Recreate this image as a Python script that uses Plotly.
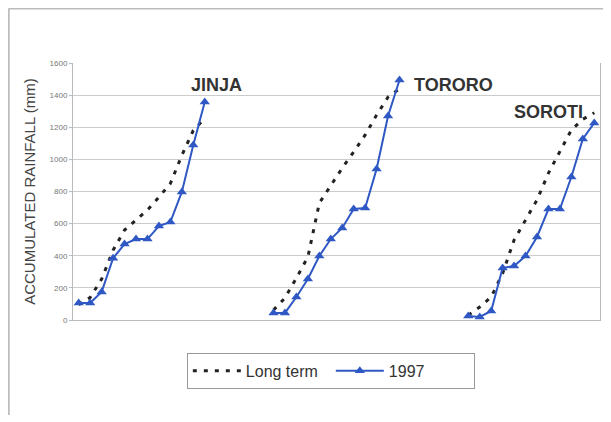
import plotly.graph_objects as go

# category slots: 12 months per station, 5 empty slots between stations
jinja_x = list(range(0, 12))
tororo_x = list(range(17, 29))
soroti_x = list(range(34, 46))

jinja_long = [95, 140, 255, 435, 560, 620, 685, 765, 850, 1025, 1180, 1255]
tororo_long = [62, 137, 261, 392, 728, 840, 946, 1046, 1152, 1276, 1388, 1440]
soroti_long = [30, 81, 143, 290, 498, 622, 747, 915, 1046, 1183, 1250, 1290]

jinja_1997 = [106, 106, 175, 385, 473, 504, 504, 585, 610, 797, 1090, 1357]
tororo_1997 = [44, 44, 143, 255, 398, 504, 573, 691, 697, 940, 1270, 1494]
soroti_1997 = [25, 19, 56, 324, 336, 398, 517, 691, 691, 890, 1127, 1227]

stations = ["JINJA", "TORORO", "SOROTI"]
label_x = [12, 32.7, 41]
label_y = [1463, 1463, 1295]

y_ticks = [0, 200, 400, 600, 800, 1000, 1200, 1400, 1600]


def join(*parts):
    xs, ys = [], []
    for x, y in parts:
        if xs:
            xs.append(None)
            ys.append(None)
        xs += x
        ys += y
    return xs, ys


lt_x, lt_y = join((jinja_x, jinja_long), (tororo_x, tororo_long), (soroti_x, soroti_long))
yr_x, yr_y = join((jinja_x, jinja_1997), (tororo_x, tororo_1997), (soroti_x, soroti_1997))

fig = go.Figure()
fig.add_trace(go.Scatter(
    x=lt_x, y=lt_y, name="Long term", mode="lines",
    line=dict(color="#222222", width=3, dash="4px,7px"),
))
fig.add_trace(go.Scatter(
    x=yr_x, y=yr_y, name="1997", mode="lines+markers",
    line=dict(color="#2f58c4", width=2),
    marker=dict(symbol="triangle-up", size=9, color="#2f58c4"),
))

for name, x, y in zip(stations, label_x, label_y):
    fig.add_annotation(x=x, y=y, text="<b>%s</b>" % name, showarrow=False,
                       font=dict(size=18, color="#333333"))

# outer chart border (left and top); page body adds an 8px offset
fig.add_shape(type="line", xref="paper", yref="paper", x0=-0.122, x1=1.05,
              y0=1.212, y1=1.212, line=dict(color="#bbbbbb", width=2))
fig.add_shape(type="line", xref="paper", yref="paper", x0=-0.122, x1=-0.122,
              y0=1.212, y1=-0.37, line=dict(color="#bbbbbb", width=2))

fig.update_layout(
    width=611, height=422,
    margin=dict(l=65, r=19, t=55, b=110),
    paper_bgcolor="white", plot_bgcolor="white",
    font=dict(family="Arial, Liberation Sans, sans-serif", color="#444444"),
    showlegend=True,
    legend=dict(orientation="h", x=0.216, y=-0.128, xanchor="left", yanchor="top",
                bordercolor="#999999", borderwidth=1, font=dict(size=16, color="#333333"),
                itemwidth=48, entrywidth=80),
)
fig.update_xaxes(range=[-0.5, 45.5], showticklabels=False, showgrid=False,
                 zeroline=False, showline=True, linecolor="#bbbbbb", ticks="")
fig.update_yaxes(range=[0, 1600], tickvals=y_ticks, showgrid=True, gridcolor="#cccccc",
                 zeroline=False, showline=True, linecolor="#bbbbbb", mirror=True,
                 ticks="outside", ticklen=3, tickcolor="#bbbbbb",
                 tickfont=dict(size=8, color="#777777"),
                 title=dict(text="ACCUMULATED RAINFALL (mm)", standoff=10,
                            font=dict(size=15, color="#444444")))

fig.write_html("out.html")
